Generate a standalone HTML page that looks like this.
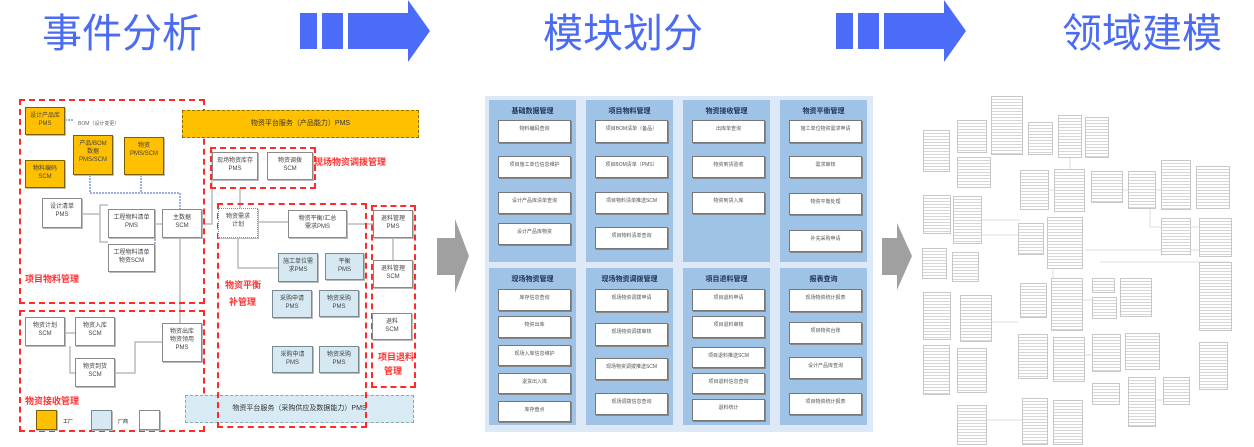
<!DOCTYPE html>
<html><head><meta charset="utf-8"><style>
body{margin:0;width:1254px;height:447px;background:#fff;position:relative;overflow:hidden;font-family:"Liberation Sans","Noto Sans CJK SC",sans-serif}
div{position:absolute;box-sizing:border-box}
.t{color:#4b6cf2;font-size:40px;line-height:40px;top:14px;white-space:nowrap;letter-spacing:0px}
.b{background:#fff;border:1px solid #8a8a8a;box-shadow:1px 1px 0 #bbb;font-size:6px;color:#444;text-align:center;line-height:8px;padding-top:4px;overflow:hidden}
.o{background:#ffc000;border:1px solid #7a6000}
.lb{background:#d6e9f3;border:1px solid #7a8a95}
.rd{border:2px dashed #ff2b2b}
.rl{color:#ff3030;font-size:9px;font-weight:bold;white-space:nowrap}
.col{background:#9ec3e7}
.h{font-size:7px;font-weight:bold;color:#1f3050;text-align:center;width:100%}
.w{background:#fff;border:1px solid #777;box-shadow:1px 1px 0 #888;font-size:5px;color:#555;text-align:center;line-height:7px;padding-top:5px;overflow:hidden}
.er{border:1px solid #c8c8c8;background:repeating-linear-gradient(#fff 0 2px,#d6d6d6 2px 3px);}
</style></head><body>
<div class="t" style="left:42px">事件分析</div>
<div class="t" style="left:543px">模块划分</div>
<div class="t" style="left:1062px">领域建模</div>
<svg style="position:absolute;left:0;top:0" width="1254" height="447">
<g fill="#4b6cf7">
<rect x="300" y="13" width="17" height="36"/><rect x="322" y="13" width="21" height="36"/>
<polygon points="348,13 408,13 408,0 430,31 408,62 408,49 348,49"/>
<rect x="836" y="13" width="17" height="36"/><rect x="858" y="13" width="21" height="36"/>
<polygon points="884,13 944,13 944,0 966,31 944,62 944,49 884,49"/>
</g>
<g fill="#a0a0a0">
<polygon points="437,238 455,238 455,219 469,256 455,293 455,275 437,275"/>
<polygon points="882,238 897,238 897,223 912,256 897,290 897,275 882,275"/>
</g>
<g stroke="#bbb" fill="none" stroke-width="1.5">
<path d="M82,214 H100 V242 H108 M100,214 V205 H108"/>
<path d="M155,224 H162 M180,238 V323 M202,224 H212 V150"/>
<path d="M115,373 H135 V342 H162 M65,333 H75 M70,346 V373 H75"/>
<path d="M258,222 H288 M238,238 V268 H278 M347,224 H373 M393,238 V260 M240,188 V208"/>
</g>
<g stroke="#7a9ad8" fill="none" stroke-width="1.5" stroke-dasharray="2,1">
<path d="M90,175 V193 H180 V209 M141,175 V193"/><path d="M155,212 V270"/><path d="M65,120 H73"/>
</g>
</svg>
<!-- left panel -->
<div class="rd" style="left:19px;top:99px;width:186px;height:205px"></div>
<div class="rd" style="left:19px;top:310px;width:186px;height:122px"></div>
<div style="left:182px;top:110px;width:237px;height:28px;background:#ffc000;border:1px dashed #8a7000;font-size:7px;text-align:center;line-height:26px;color:#333">物资平台服务（产品能力）PMS</div>
<div style="left:185px;top:395px;width:229px;height:28px;background:#d8ebf4;border:1px dashed #8aa;font-size:7px;text-align:center;line-height:26px;color:#333">物资平台服务（采购供应及数据能力）PMS</div>
<div class="rd" style="left:210px;top:147px;width:106px;height:42px"></div>
<div class="rd" style="left:217px;top:203px;width:150px;height:225px"></div>
<div class="rd" style="left:371px;top:205px;width:45px;height:183px"></div>
<div class="b o" style="left:25px;top:107px;width:40px;height:28px">设计产品库<br>PMS</div>
<div class="b o" style="left:25px;top:160px;width:40px;height:28px">物料编码<br>SCM</div>
<div class="b o" style="left:73px;top:135px;width:40px;height:40px">产品/BOM<br>数据<br>PMS/SCM</div>
<div class="b o" style="left:124px;top:137px;width:40px;height:38px">物资<br>PMS/SCM</div>
<div style="left:78px;top:120px;font-size:5px;color:#666">BOM（设计变更）</div>
<div class="b" style="left:42px;top:198px;width:40px;height:30px">设计清单<br>PMS</div>
<div class="b" style="left:108px;top:209px;width:47px;height:29px">工程物料清单<br>PMS</div>
<div class="b" style="left:108px;top:244px;width:47px;height:28px">工程物料清单<br>物资SCM</div>
<div class="b" style="left:162px;top:209px;width:40px;height:29px">主数据<br>SCM</div>
<div class="rl" style="left:25px;top:272px">项目物料管理</div>
<div class="b" style="left:25px;top:317px;width:40px;height:29px">物资计划<br>SCM</div>
<div class="b" style="left:75px;top:317px;width:40px;height:29px">物资入库<br>SCM</div>
<div class="b" style="left:75px;top:358px;width:40px;height:29px">物资到货<br>SCM</div>
<div class="b" style="left:162px;top:323px;width:40px;height:39px">物资出库<br>物资领用<br>PMS</div>
<div class="rl" style="left:25px;top:394px">物资接收管理</div>
<div class="b o" style="left:36px;top:410px;width:21px;height:20px"></div>
<div style="left:63px;top:418px;font-size:5px">工厂</div>
<div class="b lb" style="left:91px;top:410px;width:21px;height:20px"></div>
<div style="left:118px;top:418px;font-size:5px">厂商</div>
<div class="b" style="left:139px;top:410px;width:21px;height:20px"></div>
<div class="b" style="left:212px;top:152px;width:46px;height:28px">现场物资库存<br>PMS</div>
<div class="b" style="left:267px;top:152px;width:46px;height:28px">物资调拨<br>SCM</div>
<div class="rl" style="left:314px;top:155px">现场物资调拨管理</div>
<div class="b" style="left:218px;top:208px;width:40px;height:30px;border-style:dotted">物资需求<br>计划</div>
<div class="b" style="left:288px;top:210px;width:59px;height:28px">物资平衡/汇总<br>需求PMS</div>
<div class="b lb" style="left:278px;top:253px;width:40px;height:29px">施工单位需<br>求PMS</div>
<div class="b lb" style="left:325px;top:253px;width:39px;height:27px">平衡<br>PMS</div>
<div class="b lb" style="left:272px;top:290px;width:40px;height:28px">采购申请<br>PMS</div>
<div class="b lb" style="left:319px;top:290px;width:40px;height:27px">物资采购<br>PMS</div>
<div class="b lb" style="left:272px;top:346px;width:41px;height:27px">采购申请<br>PMS</div>
<div class="b lb" style="left:319px;top:346px;width:40px;height:27px">物资采购<br>PMS</div>
<div class="rl" style="left:225px;top:278px">物资平衡</div>
<div class="rl" style="left:229px;top:295px">补管理</div>
<div class="b" style="left:373px;top:210px;width:40px;height:28px">退料管理<br>PMS</div>
<div class="b" style="left:373px;top:260px;width:40px;height:28px">退料管理<br>SCM</div>
<div class="b" style="left:372px;top:313px;width:40px;height:27px">退料<br>SCM</div>
<div class="rl" style="left:378px;top:350px">项目退料</div>
<div class="rl" style="left:384px;top:364px">管理</div>
<!-- middle -->
<div style="left:485px;top:96px;width:388px;height:336px;background:#dde9f6"></div>
<div class="col" style="left:489px;top:100px;width:87px;height:162px"><div class="h" style="top:6px">基础数据管理</div></div>
<div class="col" style="left:586px;top:100px;width:87px;height:162px"><div class="h" style="top:6px">项目物料管理</div></div>
<div class="col" style="left:683px;top:100px;width:87px;height:162px"><div class="h" style="top:6px">物资接收管理</div></div>
<div class="col" style="left:780px;top:100px;width:87px;height:162px"><div class="h" style="top:6px">物资平衡管理</div></div>
<div class="col" style="left:489px;top:268px;width:87px;height:157px"><div class="h" style="top:6px">现场物资管理</div></div>
<div class="col" style="left:586px;top:268px;width:87px;height:157px"><div class="h" style="top:6px">现场物资调拨管理</div></div>
<div class="col" style="left:683px;top:268px;width:87px;height:157px"><div class="h" style="top:6px">项目退料管理</div></div>
<div class="col" style="left:780px;top:268px;width:87px;height:157px"><div class="h" style="top:6px">报表查询</div></div>
<div class="w" style="left:498px;top:120px;width:73px;height:23px">物料编码查询</div>
<div class="w" style="left:498px;top:156px;width:73px;height:22px">项目施工单位信息维护</div>
<div class="w" style="left:498px;top:192px;width:73px;height:22px">设计产品库清单查询</div>
<div class="w" style="left:498px;top:223px;width:73px;height:22px">设计产品库物资</div>
<div class="w" style="left:595px;top:120px;width:73px;height:23px">项目BOM清单（备品）</div>
<div class="w" style="left:595px;top:156px;width:73px;height:22px">项目BOM清单（PMS）</div>
<div class="w" style="left:595px;top:192px;width:73px;height:22px">项目物料清单推送SCM</div>
<div class="w" style="left:595px;top:227px;width:73px;height:22px">项目物料清单查询</div>
<div class="w" style="left:692px;top:120px;width:73px;height:23px">出库单查询</div>
<div class="w" style="left:692px;top:156px;width:73px;height:22px">物资到货验收</div>
<div class="w" style="left:692px;top:192px;width:73px;height:22px">物资到货入库</div>
<div class="w" style="left:789px;top:120px;width:73px;height:23px">施工单位物资需求申请</div>
<div class="w" style="left:789px;top:156px;width:73px;height:22px">需求审核</div>
<div class="w" style="left:789px;top:193px;width:73px;height:22px">物资平衡处理</div>
<div class="w" style="left:789px;top:230px;width:73px;height:22px">补充采购申请</div>
<div class="w" style="left:498px;top:289px;width:73px;height:22px">库存信息查询</div>
<div class="w" style="left:498px;top:316px;width:73px;height:22px">物资出库</div>
<div class="w" style="left:498px;top:345px;width:73px;height:21px">现场入库信息维护</div>
<div class="w" style="left:498px;top:373px;width:73px;height:21px">退货出入库</div>
<div class="w" style="left:498px;top:401px;width:73px;height:21px">库存盘点</div>
<div class="w" style="left:595px;top:289px;width:73px;height:23px">现场物资调拨申请</div>
<div class="w" style="left:595px;top:323px;width:73px;height:23px">现场物资调拨审核</div>
<div class="w" style="left:595px;top:358px;width:73px;height:22px">现场物资调拨推送SCM</div>
<div class="w" style="left:595px;top:393px;width:73px;height:22px">现场调拨信息查询</div>
<div class="w" style="left:692px;top:289px;width:73px;height:22px">项目退料申请</div>
<div class="w" style="left:692px;top:316px;width:73px;height:22px">项目退料审核</div>
<div class="w" style="left:692px;top:347px;width:73px;height:21px">项目退料推送SCM</div>
<div class="w" style="left:692px;top:373px;width:73px;height:21px">项目退料信息查询</div>
<div class="w" style="left:692px;top:399px;width:73px;height:22px">退料统计</div>
<div class="w" style="left:789px;top:289px;width:73px;height:23px">现场物资统计报表</div>
<div class="w" style="left:789px;top:322px;width:73px;height:22px">项目物资台账</div>
<div class="w" style="left:789px;top:357px;width:73px;height:22px">设计产品库查询</div>
<div class="w" style="left:789px;top:393px;width:73px;height:22px">项目物资统计报表</div>
<!-- right ER -->
<svg style="position:absolute;left:0;top:0" width="1254" height="447"><g stroke="#ddd" fill="none">
<path d="M982,220 H1020 M982,235 H1018 M987,322 H1018 M1085,250 H1199 M1049,190 H1054 M1123,190 H1128 M1156,190 H1161 M1083,300 H1092 M1085,355 H1092 M1156,400 H1163 M987,420 H1022 M1070,158 V169 M1053,262 V278 M1100,262 H1230 M1150,203 V227 H1199"/>
</g></svg>
<div class="er" style="left:923px;top:130px;width:27px;height:42px"></div>
<div class="er" style="left:957px;top:120px;width:30px;height:33px"></div>
<div class="er" style="left:957px;top:157px;width:34px;height:31px"></div>
<div class="er" style="left:991px;top:96px;width:32px;height:59px"></div>
<div class="er" style="left:1028px;top:122px;width:25px;height:33px"></div>
<div class="er" style="left:1058px;top:115px;width:24px;height:43px"></div>
<div class="er" style="left:1085px;top:117px;width:24px;height:41px"></div>
<div class="er" style="left:923px;top:195px;width:28px;height:39px"></div>
<div class="er" style="left:953px;top:196px;width:29px;height:48px"></div>
<div class="er" style="left:922px;top:248px;width:25px;height:31px"></div>
<div class="er" style="left:952px;top:252px;width:27px;height:30px"></div>
<div class="er" style="left:923px;top:292px;width:28px;height:48px"></div>
<div class="er" style="left:960px;top:295px;width:32px;height:47px"></div>
<div class="er" style="left:923px;top:345px;width:27px;height:50px"></div>
<div class="er" style="left:957px;top:348px;width:30px;height:45px"></div>
<div class="er" style="left:957px;top:405px;width:30px;height:40px"></div>
<div class="er" style="left:1020px;top:170px;width:29px;height:40px"></div>
<div class="er" style="left:1054px;top:169px;width:31px;height:43px"></div>
<div class="er" style="left:1091px;top:171px;width:32px;height:32px"></div>
<div class="er" style="left:1128px;top:171px;width:28px;height:38px"></div>
<div class="er" style="left:1161px;top:160px;width:30px;height:50px"></div>
<div class="er" style="left:1196px;top:166px;width:34px;height:43px"></div>
<div class="er" style="left:1018px;top:223px;width:26px;height:32px"></div>
<div class="er" style="left:1047px;top:217px;width:36px;height:52px"></div>
<div class="er" style="left:1161px;top:218px;width:30px;height:37px"></div>
<div class="er" style="left:1199px;top:218px;width:33px;height:39px"></div>
<div class="er" style="left:1199px;top:262px;width:33px;height:69px"></div>
<div class="er" style="left:1020px;top:283px;width:27px;height:35px"></div>
<div class="er" style="left:1051px;top:278px;width:32px;height:53px"></div>
<div class="er" style="left:1092px;top:278px;width:23px;height:15px"></div>
<div class="er" style="left:1092px;top:297px;width:25px;height:22px"></div>
<div class="er" style="left:1120px;top:278px;width:32px;height:39px"></div>
<div class="er" style="left:1018px;top:334px;width:30px;height:45px"></div>
<div class="er" style="left:1053px;top:337px;width:32px;height:45px"></div>
<div class="er" style="left:1092px;top:334px;width:29px;height:38px"></div>
<div class="er" style="left:1125px;top:333px;width:35px;height:37px"></div>
<div class="er" style="left:1199px;top:342px;width:29px;height:48px"></div>
<div class="er" style="left:1092px;top:383px;width:28px;height:22px"></div>
<div class="er" style="left:1128px;top:377px;width:28px;height:50px"></div>
<div class="er" style="left:1163px;top:377px;width:27px;height:28px"></div>
<div class="er" style="left:1022px;top:398px;width:26px;height:47px"></div>
<div class="er" style="left:1053px;top:400px;width:30px;height:45px"></div>
</body></html>
